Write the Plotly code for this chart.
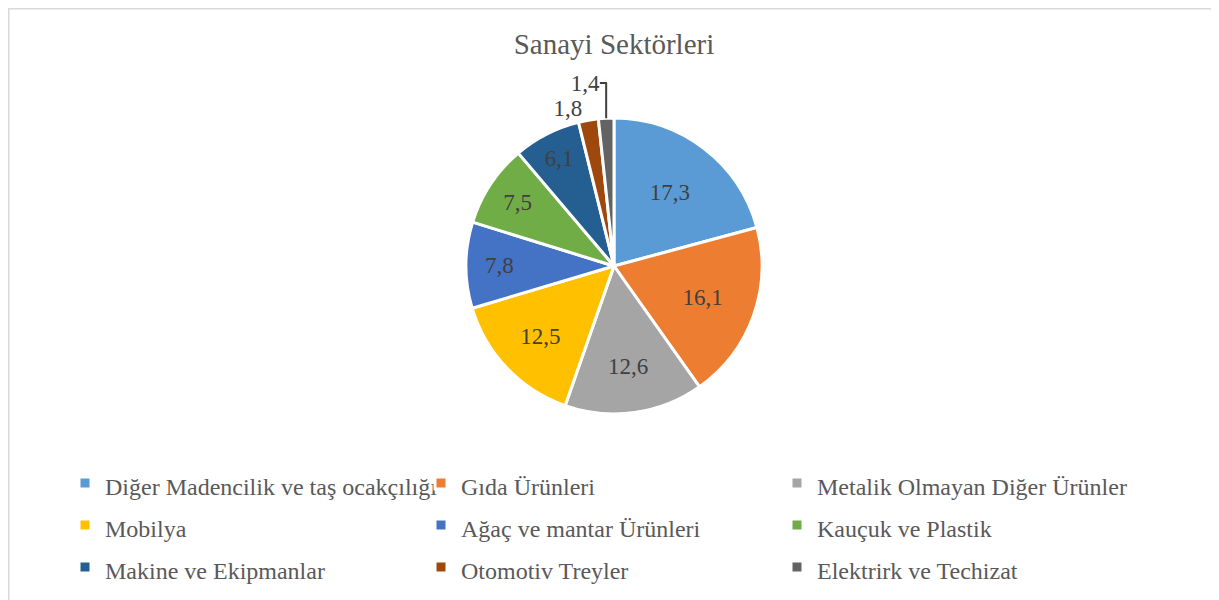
import plotly.graph_objects as go

sektorler = ["Diğer Madencilik ve taş ocakçılığı", "Gıda Ürünleri", "Metalik Olmayan Diğer Ürünler",
             "Mobilya", "Ağaç ve mantar Ürünleri", "Kauçuk ve Plastik",
             "Makine ve Ekipmanlar", "Otomotiv Treyler", "Elektrirk ve Techizat"]
degerler = [17.3, 16.1, 12.6, 12.5, 7.8, 7.5, 6.1, 1.8, 1.4]
etiketler = ["17,3", "16,1", "12,6", "12,5", "7,8", "7,5", "6,1", "1,8", "1,4"]
renkler = ["#5B9BD5", "#ED7D31", "#A5A5A5", "#FFC000", "#4472C4",
           "#70AD47", "#255E91", "#9E480E", "#636363"]

W, H = 1219, 600


def py(v):
    # pixel row -> paper fraction (margins are zero, paper = whole figure)
    return 1 - v / H


# legend rows in the reference are further apart than plotly's default,
# so the legend font is bigger and the text itself is set back to 24px
legend_labels = ['<span style="font-size:24px">%s</span>' % s for s in sektorler]

pie_cx = 606
fig = go.Figure(go.Pie(
    labels=legend_labels,
    values=degerler,
    text=etiketler,
    textinfo="text",
    textposition="auto",
    sort=False,
    direction="clockwise",
    rotation=0,
    marker=dict(colors=renkler, line=dict(color="white", width=3)),
    insidetextfont=dict(family="Liberation Serif", size=23, color="#404040"),
    outsidetextfont=dict(family="Liberation Serif", size=23, color="#404040"),
    domain=dict(x=[(pie_cx - 480) / W, (pie_cx + 480) / W], y=[py(406), py(110)]),
    hoverinfo="text+percent",
    showlegend=True,
))

fig.update_layout(
    width=W, height=H,
    margin=dict(l=0, r=0, t=0, b=0, autoexpand=False),
    paper_bgcolor="white",
    font=dict(family="Liberation Serif", color="#595959"),
    title=dict(text="Sanayi Sektörleri", x=606 / W, xanchor="center", y=py(36), yanchor="middle",
               font=dict(size=29, color="#595959", family="Liberation Serif")),
    legend=dict(orientation="h", x=57 / W, xanchor="left", y=py(449), yanchor="top",
                entrywidth=311, entrywidthmode="pixels",
                font=dict(size=30, color="#595959", family="Liberation Serif"),
                traceorder="normal", itemclick=False),
    shapes=[dict(type="rect", xref="paper", yref="paper", x0=0.75 / W, x1=1205.5 / W,
                 y0=py(H + 20), y1=py(0.75), line=dict(color="#D9D9D9", width=1.5))],
)

fig.write_html("out.html")
